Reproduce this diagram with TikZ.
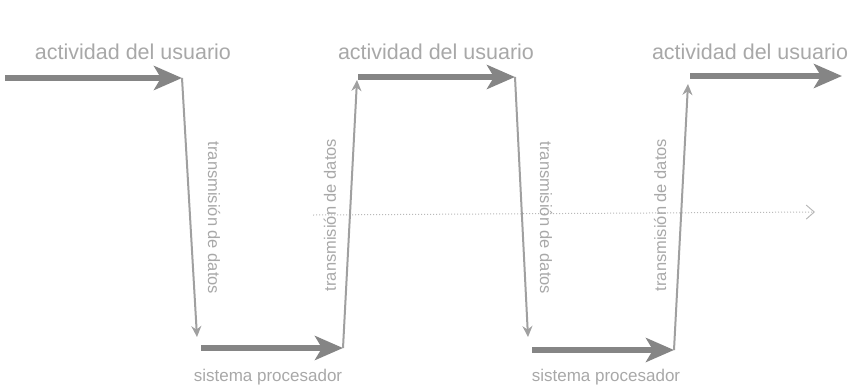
\documentclass[tikz,border=0pt]{standalone}
\usepackage{fontspec}
\setmainfont{Liberation Sans}
\usetikzlibrary{arrows.meta}
\definecolor{txtgray}{HTML}{A8A8A8}
\definecolor{arrgray}{HTML}{858585}
\definecolor{lingray}{HTML}{A0A0A0}
\tikzset{
  bigarrow/.style={draw=arrgray, line width=5.5pt, -{Stealth[length=28pt,width=24pt,inset=7pt]}},
  thinarrow/.style={draw=lingray, line width=2pt, -{Stealth[length=11pt,width=10pt]}},
  toplabel/.style={text=txtgray, font=\fontsize{21.5}{24}\selectfont, inner sep=0pt},
  botlabel/.style={text=txtgray, font=\fontsize{17}{20}\selectfont, inner sep=0pt},
  sidelabel/.style={text=txtgray, font=\fontsize{16.5}{19}\selectfont, inner sep=0pt},
  axis/.style={draw=txtgray!80, line width=1pt, dotted, -{Straight Barb[length=8pt,width=14pt]}}
}
\begin{document}
\begin{tikzpicture}[x=1pt,y=-1pt]
\useasboundingbox (0,0) rectangle (851,386);
% time axis
\coordinate (ax0) at (313,215);
\coordinate (ax1) at (815,212);
\draw[axis] (ax0) -- (ax1);
% points
\coordinate (s1) at (5,78);
\coordinate (u1) at (182,78);
\coordinate (d1) at (197,337);
\coordinate (p1s) at (201,348);
\coordinate (p1e) at (343,348);
\coordinate (up1) at (357,80);
\coordinate (u2s) at (358,77);
\coordinate (u2e) at (515,77);
\coordinate (d2) at (528,337);
\coordinate (p2s) at (532,350);
\coordinate (p2e) at (674,350);
\coordinate (up2) at (688,84);
\coordinate (u3s) at (690,76);
\coordinate (u3e) at (842,76);
% thick arrows
\draw[bigarrow] (s1) -- (u1);
\draw[bigarrow] (p1s) -- (p1e);
\draw[bigarrow] (u2s) -- (u2e);
\draw[bigarrow] (p2s) -- (p2e);
\draw[bigarrow] (u3s) -- (u3e);
% thin connectors
\draw[thinarrow] (u1) -- (d1);
\draw[thinarrow] (p1e) -- (up1);
\draw[thinarrow] (u2e) -- (d2);
\draw[thinarrow] (p2e) -- (up2);
% labels
\node[toplabel] (la1) at (133,52) {actividad del usuario};
\node[toplabel] (la2) at (436,52) {actividad del usuario};
\node[toplabel] (la3) at (750,52) {actividad del usuario};
\node[botlabel] (lb1) at (268,377) {sistema procesador};
\node[botlabel] (lb2) at (606,377) {sistema procesador};
\node[sidelabel, rotate=-90] (lc1) at (214,218) {transmisión de datos};
\node[sidelabel, rotate=90] (lc2) at (330,215) {transmisión de datos};
\node[sidelabel, rotate=-90] (lc3) at (546,218) {transmisión de datos};
\node[sidelabel, rotate=90] (lc4) at (660,215) {transmisión de datos};
\end{tikzpicture}
\end{document}
